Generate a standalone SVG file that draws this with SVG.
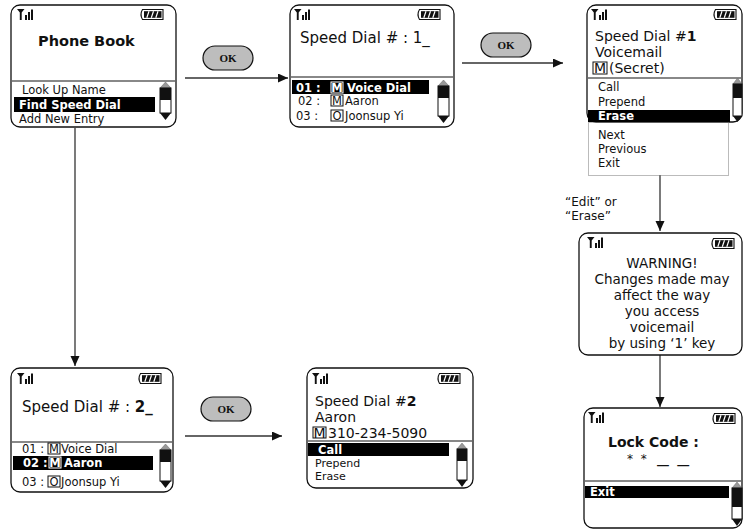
<svg xmlns="http://www.w3.org/2000/svg" xmlns:xlink="http://www.w3.org/1999/xlink" width="744" height="529" viewBox="0 0 744 529">
<style>
.scr{fill:#fff;stroke:#111;stroke-width:1.3}
.sep{stroke:#888;stroke-width:2}
.t{font-family:"DejaVu Sans",Verdana,sans-serif;fill:#111}
.h{font-size:15px}
.h2{font-size:14px}
.l{font-size:11.5px}
.b{font-weight:bold}
.w{fill:#fff}
.bar{fill:#000}
.mb{fill:none;stroke:#111;stroke-width:1}
.mbw{fill:none;stroke:#fff;stroke-width:1}
.con{stroke:#333;stroke-width:1.3;fill:none}
.ok{fill:#bdbdbd;stroke:#111;stroke-width:1.2}
.okt{font-family:"Liberation Serif","Times New Roman",serif;font-weight:bold;font-size:11px;fill:#111}
.dot{fill:none;stroke:#777;stroke-width:1;stroke-dasharray:1 1}
</style>
<defs>
<marker id="ah" markerUnits="userSpaceOnUse" markerWidth="11" markerHeight="10" refX="10" refY="4.5" orient="auto">
<path d="M0,0 L10,4.5 L0,9 Z" fill="#111"/>
</marker>
<g id="sig">
<path d="M0,0 L7.5,0 L4.7,3.6 L4.7,11 L2.8,11 L2.8,3.6 Z" fill="#111"/>
<rect x="8" y="6" width="2" height="5" fill="#111"/>
<rect x="11" y="3" width="2" height="8" fill="#111"/>
<rect x="14" y="0.5" width="2" height="10.5" fill="#111"/>
</g>
<g id="bat">
<path d="M3.5,0.5 L24,0.5 L24,10.5 L3.5,10.5 Q0.5,5.5 3.5,0.5 Z" fill="#fff" stroke="#111" stroke-width="1.1"/>
<rect x="5" y="2.2" width="17.5" height="6.6" fill="#111"/>
<path d="M10,2.2 L7.8,8.8 M14.5,2.2 L12.3,8.8 M19,2.2 L16.8,8.8" stroke="#fff" stroke-width="1.2"/>
</g>
</defs>

<g id="connectors">
<line class="con" x1="185" y1="78" x2="288" y2="78" marker-end="url(#ah)"/>
<line class="con" x1="462" y1="63" x2="563" y2="63" marker-end="url(#ah)"/>
<line class="con" x1="75" y1="128" x2="75" y2="366" marker-end="url(#ah)"/>
<line class="con" x1="185" y1="436" x2="282" y2="436" marker-end="url(#ah)"/>
<line class="con" x1="660" y1="175" x2="660" y2="231" marker-end="url(#ah)"/>
<line class="con" x1="660" y1="355" x2="660" y2="407" marker-end="url(#ah)"/>
<text class="t" x="565" y="206" font-size="12">“Edit” or</text>
<text class="t" x="565" y="220" font-size="12">“Erase”</text>
</g>

<g id="ok1"><rect class="ok" x="203" y="46" width="50" height="24" rx="12"/><text class="okt" x="228" y="62" text-anchor="middle">OK</text></g>
<g id="ok2"><rect class="ok" x="481" y="33" width="50" height="24" rx="12"/><text class="okt" x="506" y="49" text-anchor="middle">OK</text></g>
<g id="ok3"><rect class="ok" x="201" y="397" width="50" height="24" rx="12"/><text class="okt" x="226" y="413" text-anchor="middle">OK</text></g>

<g id="phonebook">
<rect class="scr" x="11" y="5" width="165" height="122" rx="9"/>
<use href="#sig" x="17" y="9"/>
<use href="#bat" x="139" y="9"/>
<text class="t b" x="38" y="46" font-size="14.5">Phone Book</text>
<line class="sep" x1="12" y1="81" x2="175" y2="81"/>
<text class="t l" x="22" y="94">Look Up Name</text>
<rect class="bar" x="14" y="97" width="141" height="15"/>
<text class="t l b w" x="19" y="109">Find Speed Dial</text>
<text class="t l" x="19" y="123">Add New Entry</text>
<g>
<path d="M160,88 L165.5,82 L171,88 Z" fill="#999" stroke="#666" stroke-width="0.5"/>
<rect x="160" y="88" width="11" height="25" fill="#fff" stroke="#111"/>
<rect x="160" y="88" width="11" height="12" fill="#111"/>
<path d="M160,113 L171,113 L165.5,120 Z" fill="#111"/>
</g>
</g>

<g id="speeddial1">
<rect class="scr" x="290" y="5" width="164" height="122" rx="9"/>
<use href="#sig" x="294" y="9"/>
<use href="#bat" x="416" y="9"/>
<text class="t h" x="300" y="43">Speed Dial # : 1_</text>
<line class="sep" x1="291" y1="77" x2="453" y2="77"/>
<rect class="bar" x="292" y="80" width="137" height="14"/>
<text class="t l b w" x="296" y="92">01 :</text>
<rect class="mbw" x="331" y="82" width="12" height="11"/>
<text class="t l b w" x="337" y="92" text-anchor="middle">M</text>
<text class="t l b w" x="347" y="92">Voice Dial</text>
<text class="t l" x="298" y="105">02 :</text>
<rect class="mb" x="331" y="95" width="12" height="11"/>
<text class="t l" x="337" y="105" text-anchor="middle">M</text>
<text class="t l" x="345" y="105">Aaron</text>
<text class="t l" x="296" y="120">03 :</text>
<rect class="mb" x="331" y="110" width="12" height="11"/>
<text class="t l" x="337" y="120" text-anchor="middle">O</text>
<text class="t l" x="345" y="120">Joonsup Yi</text>
<g>
<path d="M438,86 L443.5,80 L449,86 Z" fill="#999" stroke="#666" stroke-width="0.5"/>
<rect x="438" y="86" width="11" height="30" fill="#fff" stroke="#111"/>
<rect x="438" y="86" width="11" height="12" fill="#111"/>
<path d="M438,116 L449,116 L443.5,123 Z" fill="#111"/>
</g>
</g>

<g id="speeddial1detail">
<rect class="scr" x="587" y="5" width="155" height="117" rx="9"/>
<use href="#sig" x="591" y="9"/>
<use href="#bat" x="712" y="9"/>
<text class="t h2" x="595" y="41">Speed Dial #<tspan class="b">1</tspan></text>
<text class="t h2" x="595" y="57">Voicemail</text>
<rect class="mb" x="593" y="62" width="14" height="12"/>
<text class="t h2" x="600" y="73" text-anchor="middle">M</text>
<text class="t h2" x="609" y="73">(Secret)</text>
<line class="sep" x1="588" y1="78" x2="741" y2="78"/>
<text class="t l" x="598" y="91">Call</text>
<text class="t l" x="598" y="106">Prepend</text>
<rect class="bar" x="588" y="110" width="142" height="12"/>
<text class="t l b w" x="598" y="120">Erase</text>
<rect class="dot" x="588.5" y="122.5" width="140" height="53"/>
<text class="t l" x="598" y="139">Next</text>
<text class="t l" x="598" y="153">Previous</text>
<text class="t l" x="598" y="167">Exit</text>
<g>
<path d="M733,84 L737.5,78 L742,84 Z" fill="#999" stroke="#666" stroke-width="0.5"/>
<rect x="733" y="84" width="9" height="32" fill="#fff" stroke="#111"/>
<rect x="733" y="84" width="9" height="14" fill="#111"/>
<path d="M733,116 L742,116 L737.5,122 Z" fill="#111"/>
</g>
</g>

<g id="warning">
<rect class="scr" x="579" y="233" width="163" height="122" rx="9"/>
<use href="#sig" x="587" y="237"/>
<use href="#bat" x="710" y="238"/>
<g class="t" font-size="13.5" text-anchor="middle">
<text x="662" y="268">WARNING!</text>
<text x="662" y="284">Changes made may</text>
<text x="662" y="300">affect the way</text>
<text x="662" y="316">you access</text>
<text x="662" y="332">voicemail</text>
<text x="662" y="348">by using ‘1’ key</text>
</g>
</g>

<g id="lockcode">
<rect class="scr" x="584" y="408" width="158" height="120" rx="9"/>
<use href="#sig" x="588" y="412"/>
<use href="#bat" x="711" y="413"/>
<text class="t b" x="608" y="447" font-size="14">Lock Code :</text>
<text class="t" x="627" y="463" font-size="12" letter-spacing="2">* *</text>
<text class="t b" transform="translate(657,463) scale(1.7,1)" x="0" y="0" font-size="14">_ _</text>
<line class="sep" x1="585" y1="481" x2="741" y2="481"/>
<rect class="bar" x="585" y="486" width="144" height="12"/>
<text class="t l b w" x="590" y="496">Exit</text>
<g>
<path d="M732,488 L737,482 L742,488 Z" fill="#999" stroke="#666" stroke-width="0.5"/>
<rect x="732" y="488" width="10" height="31" fill="#fff" stroke="#111"/>
<rect x="732" y="488" width="10" height="19" fill="#111"/>
<path d="M732,519 L742,519 L737,526 Z" fill="#111"/>
</g>
</g>

<g id="speeddial2">
<rect class="scr" x="11" y="368" width="162" height="124" rx="9"/>
<use href="#sig" x="17" y="373"/>
<use href="#bat" x="137" y="373"/>
<text class="t h" x="22" y="412">Speed Dial # : <tspan class="b">2_</tspan></text>
<line class="sep" x1="12" y1="442" x2="172" y2="442"/>
<text class="t l" x="22" y="453">01 :</text>
<rect class="mb" x="48" y="443" width="12" height="11"/>
<text class="t l" x="54" y="453" text-anchor="middle">M</text>
<text class="t l" x="61" y="453">Voice Dial</text>
<rect class="bar" x="13" y="456" width="140" height="14"/>
<text class="t l b w" x="23" y="467">02 :</text>
<rect class="mbw" x="49" y="457" width="12" height="11"/>
<text class="t l b w" x="55" y="467" text-anchor="middle">M</text>
<text class="t l b w" x="64" y="467">Aaron</text>
<text class="t l" x="22" y="486">03 :</text>
<rect class="mb" x="48" y="476" width="12" height="11"/>
<text class="t l" x="54" y="486" text-anchor="middle">O</text>
<text class="t l" x="61" y="486">Joonsup Yi</text>
<g>
<path d="M160,450 L165.5,444 L171,450 Z" fill="#999" stroke="#666" stroke-width="0.5"/>
<rect x="160" y="450" width="11" height="31" fill="#fff" stroke="#111"/>
<rect x="160" y="450" width="11" height="12" fill="#111"/>
<path d="M160,481 L171,481 L165.5,488 Z" fill="#111"/>
</g>
</g>

<g id="speeddial2detail">
<rect class="scr" x="307" y="368" width="166" height="120" rx="9"/>
<use href="#sig" x="312" y="373"/>
<use href="#bat" x="436" y="373"/>
<text class="t h2" x="315" y="406">Speed Dial #<tspan class="b">2</tspan></text>
<text class="t h2" x="315" y="422">Aaron</text>
<rect class="mb" x="313" y="427" width="13" height="11"/>
<text class="t h2" x="319.5" y="438" text-anchor="middle">M</text>
<text class="t h2" x="328" y="438">310-234-5090</text>
<line class="sep" x1="308" y1="441" x2="472" y2="441"/>
<rect class="bar" x="308" y="443" width="141" height="13"/>
<text class="t l b w" x="318" y="454">Call</text>
<text class="t" x="315" y="467" font-size="11">Prepend</text>
<text class="t" x="315" y="480" font-size="11">Erase</text>
<g>
<path d="M457,449 L462,443 L467,449 Z" fill="#999" stroke="#666" stroke-width="0.5"/>
<rect x="457" y="449" width="10" height="31" fill="#fff" stroke="#111"/>
<rect x="457" y="449" width="10" height="12" fill="#111"/>
<path d="M457,480 L467,480 L462,487 Z" fill="#111"/>
</g>
</g>
</svg>
